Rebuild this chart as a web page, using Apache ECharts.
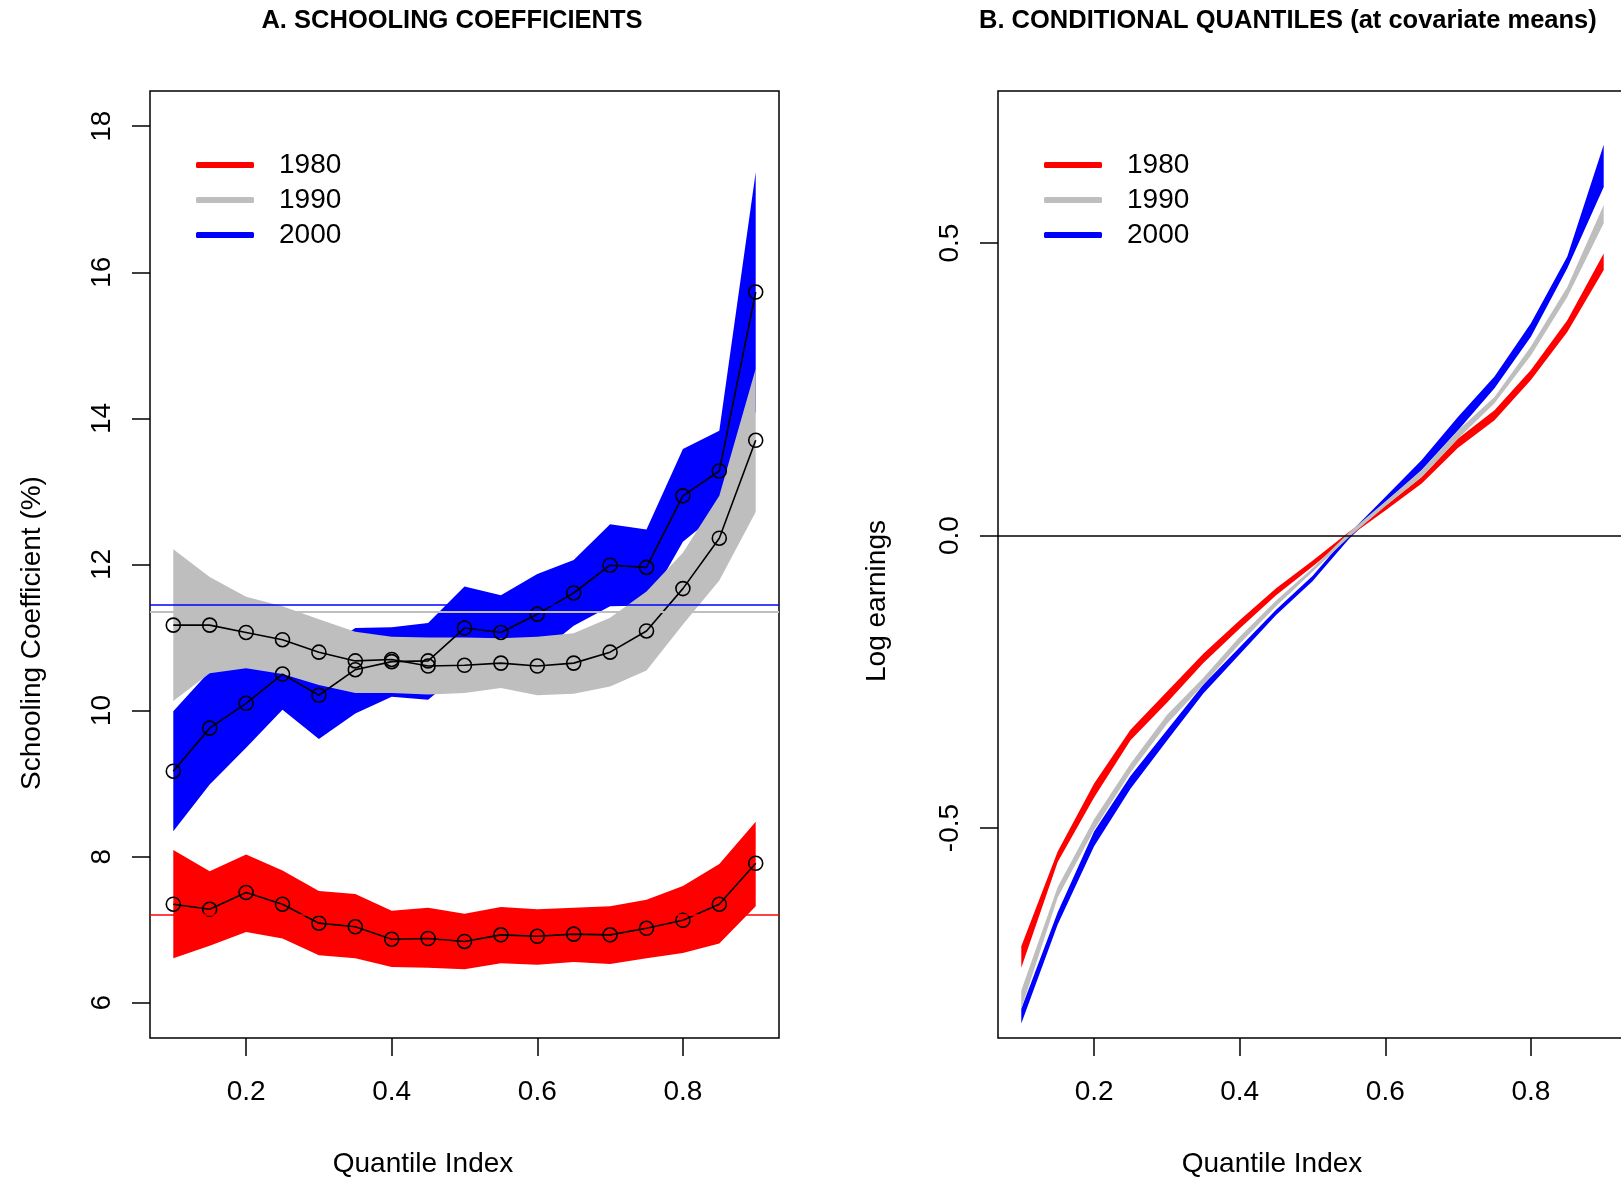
<!DOCTYPE html>
<html lang="en">
<head>
<meta charset="UTF-8">
<title>Schooling coefficients and conditional quantiles</title>
<script src="https://cdn.jsdelivr.net/npm/echarts@6.0.0/dist/echarts.min.js"></script>
<style>
  html, body { margin: 0; padding: 0; background: #fff; }
  #chart { width: 1621px; height: 1177px; }
</style>
</head>
<body>
<div id="chart"></div>
<script>
const FONT = '"Liberation Sans", Arial, Helvetica, sans-serif';
const RED = '#ff0000', GRAY = '#bebebe', BLUE = '#0000ff';

const years = ['1980', '1990', '2000'];
const quantiles = [0.10, 0.15, 0.20, 0.25, 0.30, 0.35, 0.40, 0.45, 0.50,
                   0.55, 0.60, 0.65, 0.70, 0.75, 0.80, 0.85, 0.90];
const xTicks = [0.2, 0.4, 0.6, 0.8];
const yTicksA = [6, 8, 10, 12, 14, 16, 18];
const yTicksB = [-0.5, 0, 0.5];

// A. schooling coefficients (%) with confidence bands
const coef1980 = [7.35, 7.28, 7.51, 7.35, 7.09, 7.04, 6.87, 6.88, 6.84, 6.93, 6.91, 6.94, 6.93, 7.02, 7.13, 7.35, 7.91];
const lo1980 = [6.61, 6.78, 6.97, 6.88, 6.65, 6.61, 6.49, 6.48, 6.46, 6.54, 6.52, 6.56, 6.53, 6.61, 6.68, 6.81, 7.32];
const hi1980 = [8.09, 7.80, 8.03, 7.81, 7.53, 7.49, 7.26, 7.30, 7.22, 7.31, 7.28, 7.30, 7.32, 7.41, 7.60, 7.90, 8.48];

const coef1990 = [11.17, 11.17, 11.07, 10.97, 10.80, 10.68, 10.70, 10.61, 10.62, 10.65, 10.61, 10.65, 10.80, 11.09, 11.67, 12.36, 13.70];
const lo1990 = [10.13, 10.51, 10.58, 10.50, 10.35, 10.24, 10.24, 10.22, 10.24, 10.31, 10.21, 10.23, 10.33, 10.55, 11.18, 11.78, 12.72];
const hi1990 = [12.21, 11.83, 11.56, 11.43, 11.25, 11.08, 11.01, 11.00, 11.00, 10.99, 11.01, 11.06, 11.27, 11.63, 12.16, 12.94, 14.68];

const coef2000 = [9.17, 9.76, 10.10, 10.50, 10.21, 10.56, 10.67, 10.68, 11.13, 11.07, 11.32, 11.61, 11.99, 11.96, 12.94, 13.28, 15.73];
const lo2000 = [8.35, 8.99, 9.49, 10.01, 9.61, 9.96, 10.19, 10.15, 10.56, 10.57, 10.76, 11.16, 11.43, 11.44, 12.31, 12.72, 14.09];
const hi2000 = [9.99, 10.54, 10.70, 10.99, 10.80, 11.13, 11.14, 11.20, 11.70, 11.58, 11.87, 12.06, 12.55, 12.48, 13.58, 13.83, 17.37];

// OLS reference lines: 1980, 1990, 2000
const ols = [7.21, 11.36, 11.45];

// B. conditional quantiles of log earnings (bands)
const qLo1980 = [-0.739, -0.558, -0.448, -0.350, -0.286, -0.218, -0.159, -0.102, -0.053, -0.002, 0.043, 0.089, 0.150, 0.197, 0.266, 0.348, 0.454];
const qHi1980 = [-0.702, -0.540, -0.424, -0.332, -0.267, -0.202, -0.145, -0.090, -0.043, 0.006, 0.051, 0.100, 0.166, 0.214, 0.283, 0.368, 0.482];
const qLo1990 = [-0.809, -0.619, -0.503, -0.405, -0.322, -0.255, -0.185, -0.121, -0.062, -0.003, 0.050, 0.100, 0.166, 0.226, 0.308, 0.408, 0.534];
const qHi1990 = [-0.778, -0.601, -0.485, -0.390, -0.307, -0.243, -0.173, -0.111, -0.056, 0.005, 0.058, 0.112, 0.180, 0.237, 0.323, 0.425, 0.565];
const qLo2000 = [-0.834, -0.665, -0.531, -0.433, -0.351, -0.270, -0.203, -0.136, -0.078, -0.006, 0.055, 0.112, 0.180, 0.252, 0.340, 0.457, 0.596];
const qHi2000 = [-0.809, -0.644, -0.506, -0.411, -0.333, -0.255, -0.191, -0.127, -0.069, 0.003, 0.066, 0.129, 0.203, 0.272, 0.363, 0.477, 0.668];

const chart = echarts.init(document.getElementById('chart'), null, { renderer: 'canvas' });

// one filled polygon between lo and hi, drawn from the first data item
function bandSeries(name, color, lo, hi, idx) {
  return {
    type: 'custom',
    name: name,
    xAxisIndex: idx,
    yAxisIndex: idx,
    silent: true,
    itemStyle: { color: color },
    encode: { x: 0, y: [1, 2] },
    data: quantiles.map((q, i) => [q, lo[i], hi[i]]),
    renderItem: function (params, api) {
      if (params.dataIndex !== 0) return;
      const pts = [];
      for (let i = 0; i < quantiles.length; i++) pts.push(api.coord([quantiles[i], hi[i]]));
      for (let i = quantiles.length - 1; i >= 0; i--) pts.push(api.coord([quantiles[i], lo[i]]));
      return { type: 'polygon', shape: { points: pts }, style: { fill: color } };
    }
  };
}

function coefSeries(name, values) {
  return {
    type: 'line',
    name: name,
    xAxisIndex: 0,
    yAxisIndex: 0,
    silent: true,
    z: 3,
    data: quantiles.map((q, i) => [q, values[i]]),
    symbol: 'circle',
    symbolSize: 14,
    itemStyle: { color: 'rgba(0,0,0,0)', borderColor: '#000', borderWidth: 1.6 },
    lineStyle: { color: '#000', width: 1.6 }
  };
}

function xAxisOf(idx) {
  return {
    gridIndex: idx, type: 'value', min: 0.068, max: 0.932,
    axisLine: { show: false, onZero: false }, splitLine: { show: false },
    axisTick: { show: true, length: 18, customValues: xTicks, lineStyle: { color: '#000', width: 1.5 } },
    axisLabel: { customValues: xTicks, margin: 40, fontSize: 28, color: '#000', fontFamily: FONT }
  };
}

function yAxisOf(idx, min, max, ticks, fmt) {
  return {
    gridIndex: idx, type: 'value', min: min, max: max,
    axisLine: { show: false, onZero: false }, splitLine: { show: false },
    axisTick: { show: true, length: 18, customValues: ticks, lineStyle: { color: '#000', width: 1.5 } },
    axisLabel: { customValues: ticks, rotate: 90, margin: 34, fontSize: 28, color: '#000', fontFamily: FONT, formatter: fmt }
  };
}

function legendOf(left) {
  return {
    data: years, orient: 'vertical', left: left, top: 151, padding: 0,
    itemWidth: 58, itemHeight: 6, itemGap: 7, icon: 'roundRect', selectedMode: false,
    textStyle: { fontSize: 28, color: '#000', fontFamily: FONT, padding: [0, 0, 0, 20] }
  };
}

function label(text, x, y, size, opts) {
  return Object.assign({
    type: 'text', x: x, y: y, silent: true,
    style: {
      text: text, fill: '#000', fontSize: size, fontFamily: FONT,
      textAlign: 'center', textVerticalAlign: 'middle', align: 'center', verticalAlign: 'middle'
    }
  }, opts || {});
}

const gridStyle = { show: true, borderColor: '#000', borderWidth: 1.5, backgroundColor: 'transparent', outerBoundsMode: 'none', containLabel: false };

const option = {
  animation: false,
  backgroundColor: '#fff',
  textStyle: { fontFamily: FONT },
  grid: [
    Object.assign({ left: 150, top: 91, width: 629, height: 947 }, gridStyle),
    Object.assign({ left: 998, top: 91, width: 629, height: 947 }, gridStyle)
  ],
  xAxis: [xAxisOf(0), xAxisOf(1)],
  yAxis: [
    yAxisOf(0, 5.518, 18.482, yTicksA),
    yAxisOf(1, -0.859, 0.76, yTicksB, v => v.toFixed(1))
  ],
  legend: [legendOf(196), legendOf(1044)],
  graphic: [
    label('A. SCHOOLING COEFFICIENTS', 452, 21, 25.5, {}),
    label('B. CONDITIONAL QUANTILES (at covariate means)', 979, 21, 25.5, {}),
    label('Quantile Index', 423, 1164, 28),
    label('Quantile Index', 1272, 1164, 28),
    label('Schooling Coefficient (%)', 32, 633, 28, { rotation: Math.PI / 2 }),
    label('Log earnings', 877, 601, 28, { rotation: Math.PI / 2 })
  ],
  series: [
    bandSeries('2000', BLUE, lo2000, hi2000, 0),
    bandSeries('1980', RED, lo1980, hi1980, 0),
    bandSeries('1990', GRAY, lo1990, hi1990, 0),
    Object.assign(coefSeries('coef2000', coef2000), {
      markLine: {
        silent: true, symbol: ['none', 'none'], label: { show: false }, animation: false,
        data: [
          { yAxis: ols[0], lineStyle: { color: RED, width: 1.5, type: 'solid' } },
          { yAxis: ols[1], lineStyle: { color: GRAY, width: 2, type: 'solid' } },
          { yAxis: ols[2], lineStyle: { color: BLUE, width: 1.5, type: 'solid' } }
        ]
      }
    }),
    coefSeries('coef1990', coef1990),
    coefSeries('coef1980', coef1980),
    bandSeries('2000', BLUE, qLo2000, qHi2000, 1),
    bandSeries('1980', RED, qLo1980, qHi1980, 1),
    Object.assign(bandSeries('1990', GRAY, qLo1990, qHi1990, 1), {
      markLine: {
        silent: true, symbol: ['none', 'none'], label: { show: false }, animation: false,
        data: [{ yAxis: 0, lineStyle: { color: '#000', width: 1.5, type: 'solid' } }]
      }
    })
  ]
};

// title styling: bold titles, left-aligned B title
option.graphic[0].style.fontWeight = 'bold';
option.graphic[1].style.fontWeight = 'bold';
option.graphic[1].style.textAlign = 'left';
option.graphic[1].style.align = 'left';

chart.setOption(option);
</script>
</body>
</html>
